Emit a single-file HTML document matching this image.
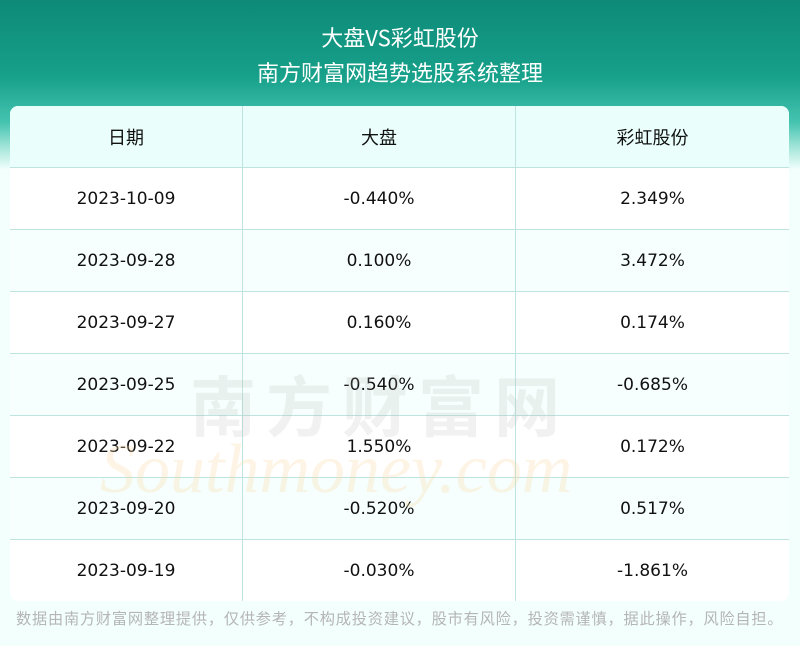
<!DOCTYPE html>
<html><head><meta charset="utf-8"><style>
*{margin:0;padding:0;box-sizing:border-box}
body{width:800px;height:646px;overflow:hidden;background:#f3fffd;font-family:"DejaVu Sans","Noto Sans CJK SC",sans-serif;position:relative}
.bg{position:absolute;left:0;top:0;width:800px;height:170px;background:linear-gradient(180deg,#0d8a78 0%,#17a08a 45%,#45c4b0 72%,#b8ece2 90%,#f3fffd 100%)}
.t1,.t2{position:absolute;width:800px;text-align:center;color:#fff;font-size:22px;font-family:"Noto Sans CJK SC",sans-serif}
.t1{top:21px}.t2{top:56px}
.tbl{position:absolute;left:10px;top:106px;width:779px;border-radius:8px;overflow:hidden;background:#fff}
.row{display:flex;height:62px;border-top:1px solid #bfe3df}
.row.h{border-top:none;height:61px;background:#eafffc}
.row.a{background:#f6fffd}
.row div{display:flex;align-items:center;justify-content:center;font-size:17px;color:#111}
.row.h div{font-family:"Noto Sans CJK SC",sans-serif;font-size:18px}
.c1{width:233px;border-right:1px solid #bfe3df}.c2{width:273px;border-right:1px solid #bfe3df}.c3{flex:1}
.wm{position:absolute;left:190px;top:355px;font-size:66px;color:rgba(180,180,180,.18);letter-spacing:10px;font-weight:bold;font-family:"Noto Sans CJK SC",sans-serif}
.wm2{position:absolute;left:100px;top:430px;font-size:70px;font-family:"Liberation Serif",serif;font-style:italic;color:rgba(250,220,170,.3)}
.ft{position:absolute;left:16px;top:607px;font-size:15.2px;letter-spacing:0.8px;color:#b5b5b5;font-family:"Noto Sans CJK SC",sans-serif;white-space:nowrap}
</style></head><body>
<div class="bg"></div>
<div class="t1">大盘VS彩虹股份</div>
<div class="t2">南方财富网趋势选股系统整理</div>
<div class="tbl">
<div class="row h"><div class="c1">日期</div><div class="c2">大盘</div><div class="c3">彩虹股份</div></div>
<div class="row"><div class="c1">2023-10-09</div><div class="c2">-0.440%</div><div class="c3">2.349%</div></div>
<div class="row a"><div class="c1">2023-09-28</div><div class="c2">0.100%</div><div class="c3">3.472%</div></div>
<div class="row"><div class="c1">2023-09-27</div><div class="c2">0.160%</div><div class="c3">0.174%</div></div>
<div class="row a"><div class="c1">2023-09-25</div><div class="c2">-0.540%</div><div class="c3">-0.685%</div></div>
<div class="row"><div class="c1">2023-09-22</div><div class="c2">1.550%</div><div class="c3">0.172%</div></div>
<div class="row a"><div class="c1">2023-09-20</div><div class="c2">-0.520%</div><div class="c3">0.517%</div></div>
<div class="row"><div class="c1">2023-09-19</div><div class="c2">-0.030%</div><div class="c3">-1.861%</div></div>
</div>
<div class="wm">南方财富网</div>
<div class="wm2">Southmoney.com</div>
<div class="ft">数据由南方财富网整理提供，仅供参考，不构成投资建议，股市有风险，投资需谨慎，据此操作，风险自担。</div>
</body></html>
